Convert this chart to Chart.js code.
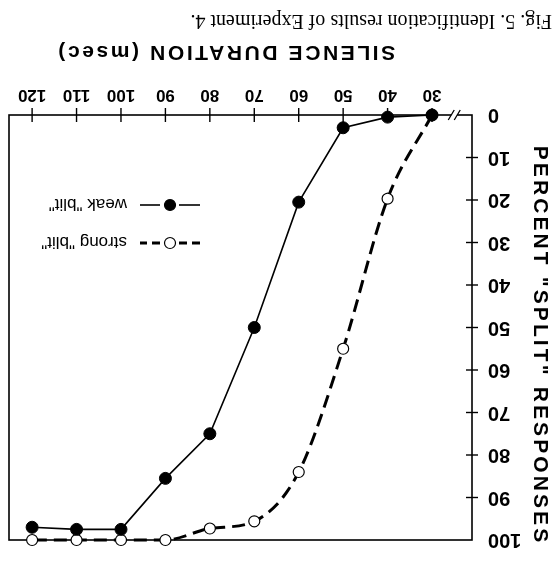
<!DOCTYPE html>
<html>
<head>
<meta charset="utf-8">
<script src="https://cdn.jsdelivr.net/npm/chart.js"></script>
<style>
html, body { margin: 0; padding: 0; background: #fff; overflow: hidden; }
#wrap { width: 552px; height: 568px; transform: rotate(180deg); }
</style>
</head>
<body>
<div id="wrap"><canvas id="c" width="552" height="568"></canvas></div>
<script>
var silence = [30, 40, 50, 60, 70, 80, 90, 100, 110, 120]
var weakBlit = [0, 0.5, 3, 20.5, 50, 75, 85.5, 97.5, 97.5, 97]
var strongBlit = [0, 19.7, 55, 84, 95.6, 97.3, 100, 100, 100, 100]
var xTicks = [30, 40, 50, 60, 70, 80, 90, 100, 110, 120]
var yTicks = [0, 10, 20, 30, 40, 50, 60, 70, 80, 90, 100]
var seriesNames = ['weak "blit"', 'strong "blit"']
var xTitle = 'SILENCE DURATION (msec)'
var yTitle = 'PERCENT "SPLIT" RESPONSES'
var caption = 'Fig. 5. Identification results of Experiment 4.'

Chart.defaults.font.family = '"Liberation Sans", Arial, sans-serif'
Chart.defaults.color = '#000'

// letter-spaced axis titles
function spacedTitle(spacing, dx, dy) {
    return function(scale) {
        if (scale._spaced) return
        var orig = scale.drawTitle
        scale.drawTitle = function() {
            var ctx = this.ctx
            ctx.save()
            ctx.letterSpacing = spacing + 'px'
            ctx.translate(dx, dy)
            orig.call(this)
            ctx.restore()
        }
        scale._spaced = true
    }
}

var framePlugin = {
    id: 'frame',
    beforeDatasetsDraw(chart) {
        var ctx = chart.ctx, a = chart.chartArea
        var xs = chart.scales.x, ys = chart.scales.y
        ctx.save()
        ctx.strokeStyle = '#000'
        ctx.lineWidth = 1.6
        ctx.strokeRect(a.left, a.top, a.right - a.left, a.bottom - a.top)
        // cross ticks
        ctx.lineWidth = 1.4
        xs.ticks.forEach(t => {
            var px = xs.getPixelForValue(t.value)
            ctx.beginPath(); ctx.moveTo(px, a.bottom - 7); ctx.lineTo(px, a.bottom + 7); ctx.stroke()
        })
        ys.ticks.forEach(t => {
            if (t.value <= 0 || t.value >= 100) return
            var py = ys.getPixelForValue(t.value)
            ctx.beginPath(); ctx.moveTo(a.left - 6, py); ctx.lineTo(a.left + 6, py); ctx.stroke()
        })
        // axis break
        var bx = xs.getPixelForValue(25)
        ctx.fillStyle = '#fff'
        ctx.fillRect(bx - 3, a.bottom - 3, 6, 6)
        ctx.lineWidth = 1.3
        ;[-3, 3].forEach(o => {
            ctx.beginPath(); ctx.moveTo(bx + o - 3, a.bottom + 5); ctx.lineTo(bx + o + 3, a.bottom - 5); ctx.stroke()
        })
        ctx.restore()
    }
}

var legendPlugin = {
    id: 'insideLegend',
    afterDatasetsDraw(chart) {
        var ctx = chart.ctx, a = chart.chartArea
        var x0 = a.right - 191
        ;[1, 0].forEach((di, r) => {
            var ds = chart.data.datasets[di]
            var y = a.bottom - 128 + r * 38
            ctx.save()
            ctx.strokeStyle = '#000'
            ctx.lineWidth = di === 0 ? 1.6 : 3
            ctx.setLineDash(di === 0 ? [] : [8, 5])
            ctx.beginPath(); ctx.moveTo(x0, y); ctx.lineTo(x0 + 21, y); ctx.stroke()
            ctx.beginPath(); ctx.moveTo(x0 + 40, y); ctx.lineTo(x0 + 60, y); ctx.stroke()
            ctx.setLineDash([])
            ctx.beginPath(); ctx.arc(x0 + 30, y, 5.5, 0, Math.PI * 2)
            ctx.fillStyle = ds.pointBackgroundColor
            ctx.fill()
            ctx.lineWidth = 1.2
            ctx.stroke()
            ctx.fillStyle = '#000'
            ctx.font = '17px "Liberation Sans", Arial, sans-serif'
            ctx.textBaseline = 'middle'
            ctx.fillText(ds.label, x0 + 73, y + 1)
            ctx.restore()
        })
    }
}

var ctx = document.getElementById('c').getContext('2d')
var myChart = new Chart(ctx, {
    type: 'line',
    data: {
        labels: silence,
        datasets: [
            {
                label: seriesNames[0],
                data: silence.map((s, i) => ({x: s, y: weakBlit[i]})),
                borderColor: '#000',
                borderWidth: 1.6,
                pointRadius: 6,
                pointBackgroundColor: '#000',
                pointBorderColor: '#000',
                pointBorderWidth: 1,
                tension: 0,
                clip: false
            },
            {
                label: seriesNames[1],
                data: silence.map((s, i) => ({x: s, y: strongBlit[i]})),
                borderColor: '#000',
                borderWidth: 3,
                borderDash: [13, 7],
                pointRadius: 5.5,
                pointBackgroundColor: '#fff',
                pointBorderColor: '#000',
                pointBorderWidth: 1.2,
                cubicInterpolationMode: 'monotone',
                clip: false
            }
        ]
    },
    options: {
        responsive: false,
        animation: false,
        layout: { padding: { top: 16, right: 9, left: 0, bottom: 0 } },
        plugins: {
            legend: { display: false },
            tooltip: { enabled: false },
            title: {
                display: true,
                position: 'bottom',
                align: 'start',
                text: caption,
                color: '#000',
                font: { family: '"Liberation Serif", "Times New Roman", serif', size: 20, weight: 'normal' },
                padding: { top: 5, bottom: 8 }
            }
        },
        scales: {
            x: {
                type: 'linear',
                min: 21,
                max: 125.2,
                afterBuildTicks: s => { s.ticks = xTicks.map(v => ({value: v})) },
                afterFit: s => { s.height = 78; spacedTitle(2.6, 15, 0)(s) },
                grid: { display: false, drawTicks: false },
                border: { display: false },
                ticks: { padding: 10, font: { size: 17, weight: 'bold' }, maxRotation: 0, autoSkip: false },
                title: { display: true, text: xTitle, font: { size: 21, weight: 'bold' }, padding: { top: 0, bottom: 2 } }
            },
            y: {
                min: 0,
                max: 100,
                afterBuildTicks: s => { s.ticks = yTicks.map(v => ({value: v})) },
                afterFit: s => { s.width = 80; spacedTitle(3.1, 0, -18)(s) },
                grid: { display: false, drawTicks: false },
                border: { display: false },
                ticks: { padding: 16, font: { size: 20, weight: 'bold' }, autoSkip: false },
                title: { display: true, text: yTitle, font: { size: 21, weight: 'bold' }, padding: 0 }
            }
        }
    },
    plugins: [framePlugin, legendPlugin]
})
</script>
</body>
</html>
